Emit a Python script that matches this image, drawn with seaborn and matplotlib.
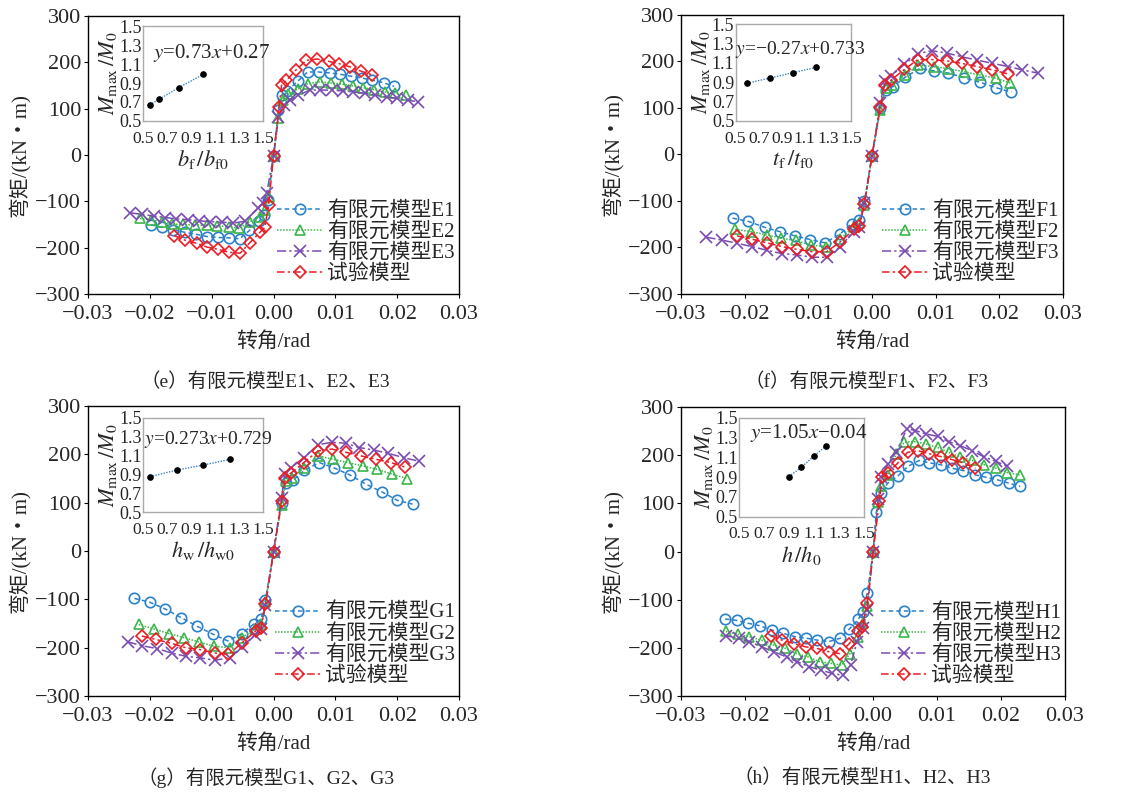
import numpy as np
import pandas as pd
import matplotlib
matplotlib.use("Agg")
import matplotlib.pyplot as plt
import seaborn as sns

# ---------------- data ----------------
# Panel (e)
E_test_x = [-0.0161,-0.0143,-0.0124,-0.0107,-0.0089,-0.0072,-0.0054,-0.0038,-0.0022,-0.0014,-0.0008,0.0,
            0.0009,0.0013,0.0021,0.0036,0.0053,0.0070,0.0089,0.0106,0.0124,0.0141,0.0159]
E_test_y = [-174,-184,-191,-199,-204,-210,-212,-189,-167,-156,-108,-3,
            104,150,161,183,204,207,202,197,190,181,173]
E1_x = [-0.0198,-0.0180,-0.0162,-0.0143,-0.0126,-0.0108,-0.0090,-0.0072,-0.0055,-0.0039,-0.0023,-0.0015,-0.0009,0.0,
        0.0008,0.0013,0.0022,0.0039,0.0055,0.0073,0.0091,0.0108,0.0125,0.0143,0.0160,0.0178,0.0195]
E1_y = [-151,-156,-162,-167,-171,-176,-178,-179,-181,-163,-143,-130,-97,-3,
        97,129,138,159,179,179,177,174,170,166,161,156,148]
E2_x = [-0.0216,-0.0198,-0.0181,-0.0164,-0.0146,-0.0127,-0.0108,-0.0092,-0.0072,-0.0056,-0.0038,-0.0022,-0.0014,-0.0008,0.0,
        0.0008,0.0015,0.0024,0.0040,0.0056,0.0075,0.0093,0.0111,0.0128,0.0145,0.0163,0.0180,0.0197,0.0214]
E2_y = [-137,-140,-144,-149,-150,-151,-152,-153,-155,-158,-144,-133,-119,-90,-3,
        79,118,131,143,154,158,155,153,149,145,141,136,134,129]
E3_x = [-0.0232,-0.0213,-0.0194,-0.0175,-0.0157,-0.0138,-0.0120,-0.0103,-0.0084,-0.0065,-0.0046,-0.0025,-0.0017,-0.0011,0.0,
        0.0008,0.0017,0.0027,0.0040,0.0059,0.0076,0.0094,0.0113,0.0129,0.0148,0.0164,0.0183,0.0199,0.0217,0.0233]
E3_y = [-125,-128,-132,-135,-138,-140,-142,-144,-145,-147,-143,-115,-104,-82,-3,
        82,107,118,129,140,140,140,138,136,133,129,125,122,118,115]

# Panel (f)
F_test_x = [-0.0212,-0.0189,-0.0165,-0.0142,-0.0118,-0.0095,-0.0071,-0.0050,-0.0028,-0.0020,-0.0012,0.0,
            0.0013,0.0020,0.0030,0.0051,0.0072,0.0095,0.0118,0.0141,0.0165,0.0189,0.0214]
F_test_y = [-175,-182,-190,-198,-204,-209,-209,-188,-161,-154,-106,-3,
            103,150,160,183,204,204,201,196,189,182,173]
F1_x = [-0.0219,-0.0194,-0.0168,-0.0145,-0.0121,-0.0097,-0.0074,-0.0051,-0.0032,-0.0020,-0.0012,0.0,
        0.0013,0.0022,0.0033,0.0052,0.0075,0.0097,0.0120,0.0145,0.0170,0.0194,0.0219]
F1_y = [-137,-144,-157,-166,-175,-183,-190,-172,-149,-141,-101,-3,
        99,139,146,166,185,180,175,165,155,144,134]
F2_x = [-0.0215,-0.0190,-0.0165,-0.0143,-0.0120,-0.0096,-0.0073,-0.0050,-0.0029,-0.0020,-0.0012,0.0,
        0.0013,0.0022,0.0032,0.0052,0.0073,0.0098,0.0120,0.0145,0.0169,0.0194,0.0217]
F2_y = [-161,-166,-173,-180,-185,-195,-198,-182,-155,-148,-109,-3,
        96,142,149,171,192,189,184,178,171,164,154]
F3_x = [-0.0260,-0.0236,-0.0212,-0.0189,-0.0165,-0.0142,-0.0118,-0.0095,-0.0071,-0.0050,-0.0029,-0.0020,-0.0012,0.0,
        0.0013,0.0020,0.0030,0.0051,0.0072,0.0094,0.0118,0.0141,0.0165,0.0189,0.0214,0.0236,0.0260]
F3_y = [-178,-184,-191,-198,-206,-213,-216,-221,-221,-198,-166,-157,-105,-3,
        110,157,169,194,217,223,218,210,203,196,189,182,175]

# Panel (g)
G_test_x = [-0.0213,-0.0190,-0.0165,-0.0142,-0.0119,-0.0095,-0.0073,-0.0051,-0.0029,-0.0020,-0.0013,0.0,
            0.0013,0.0019,0.0029,0.0049,0.0072,0.0094,0.0118,0.0141,0.0165,0.0190,0.0212]
G_test_y = [-176,-183,-191,-200,-204,-211,-214,-190,-166,-159,-110,-2,
            103,152,162,183,207,211,204,197,190,183,174]
G1_x = [-0.0225,-0.0200,-0.0175,-0.0149,-0.0123,-0.0098,-0.0074,-0.0051,-0.0031,-0.0020,-0.0013,0.0,
        0.0013,0.0020,0.0031,0.0050,0.0074,0.0098,0.0124,0.0150,0.0176,0.0200,0.0225]
G1_y = [-98,-106,-120,-138,-156,-172,-186,-171,-150,-141,-101,-2,
        99,141,146,167,183,172,157,138,122,105,97]
G2_x = [-0.0218,-0.0194,-0.0169,-0.0145,-0.0121,-0.0096,-0.0071,-0.0051,-0.0030,-0.0020,-0.0013,0.0,
        0.0013,0.0020,0.0030,0.0050,0.0072,0.0096,0.0120,0.0145,0.0168,0.0192,0.0216]
G2_y = [-152,-161,-171,-179,-188,-197,-200,-179,-161,-152,-106,-2,
        95,145,152,172,197,190,183,176,169,159,150]
G3_x = [-0.0236,-0.0212,-0.0188,-0.0165,-0.0141,-0.0119,-0.0095,-0.0071,-0.0051,-0.0030,-0.0021,-0.0013,0.0,
        0.0013,0.0018,0.0028,0.0049,0.0072,0.0094,0.0117,0.0139,0.0162,0.0186,0.0211,0.0235]
G3_y = [-188,-196,-202,-211,-218,-221,-226,-221,-198,-173,-161,-112,-2,
        110,159,172,193,220,225,223,214,209,202,193,186]

# Panel (h)
H_test_x = [-0.0160,-0.0142,-0.0124,-0.0105,-0.0088,-0.0069,-0.0052,-0.0037,-0.0023,-0.0017,-0.0009,0.0,
            0.0010,0.0014,0.0023,0.0039,0.0054,0.0071,0.0088,0.0106,0.0123,0.0141,0.0160]
H_test_y = [-175,-184,-191,-198,-201,-208,-212,-191,-166,-157,-107,-2,
            105,154,163,184,206,209,203,197,191,184,173]
H1_x = [-0.0231,-0.0213,-0.0195,-0.0177,-0.0158,-0.0140,-0.0122,-0.0104,-0.0087,-0.0069,-0.0051,-0.0037,-0.0023,-0.0016,-0.0009,0.0,
        0.0005,0.0013,0.0023,0.0039,0.0055,0.0072,0.0088,0.0106,0.0123,0.0141,0.0160,0.0177,0.0194,0.0212,0.0230]
H1_y = [-140,-143,-149,-154,-163,-170,-177,-180,-184,-187,-180,-161,-141,-125,-86,-2,
        81,122,142,157,177,189,184,180,173,168,159,154,149,142,135]
H2_x = [-0.0230,-0.0211,-0.0193,-0.0174,-0.0156,-0.0137,-0.0119,-0.0101,-0.0083,-0.0066,-0.0049,-0.0036,-0.0023,-0.0016,-0.0009,0.0,
        0.0008,0.0013,0.0023,0.0036,0.0049,0.0066,0.0083,0.0101,0.0118,0.0136,0.0155,0.0174,0.0192,0.0210,0.0229]
H2_y = [-166,-172,-177,-184,-194,-201,-212,-219,-229,-232,-236,-212,-177,-149,-114,-2,
        102,136,159,202,227,228,223,216,206,196,189,180,173,164,159]
H3_x = [-0.0229,-0.0210,-0.0193,-0.0174,-0.0155,-0.0135,-0.0118,-0.0100,-0.0082,-0.0064,-0.0047,-0.0035,-0.0025,-0.0016,-0.0009,0.0,
        0.0008,0.0013,0.0023,0.0036,0.0053,0.0066,0.0083,0.0101,0.0118,0.0136,0.0155,0.0174,0.0192,0.0210]
H3_y = [-175,-180,-187,-198,-208,-219,-229,-239,-246,-253,-257,-236,-187,-159,-121,-2,
        109,154,182,206,255,251,244,239,228,220,209,196,187,177]

# Insets: M_max/M_0 versus parameter ratio
E_ratio = [0.556, 0.636, 0.797, 1.0]
E_mratio = [0.67, 0.73, 0.85, 0.99]
F_ratio = [0.6, 0.8, 1.0, 1.2]
F_mratio = [0.89, 0.945, 1.0, 1.055]
G_ratio = [0.556, 0.78, 1.0, 1.222]
G_mratio = [0.877, 0.947, 1.0, 1.06]
H_ratio = [0.9, 1.0, 1.1, 1.2]
H_mratio = [0.904, 1.0, 1.113, 1.217]

x_ticks = [-0.03, -0.02, -0.01, 0.0, 0.01, 0.02, 0.03]
x_ticklabels = ["\u22120.03", "\u22120.02", "\u22120.01", "0.00", "0.01", "0.02", "0.03"]
y_ticks = [-300, -200, -100, 0, 100, 200, 300]
inset_ticks = [0.5, 0.7, 0.9, 1.1, 1.3, 1.5]

# ---------------- style ----------------
sns.set_theme(style="white")
plt.rcParams["font.family"] = ["Liberation Serif", "Noto Sans CJK SC"]
plt.rcParams["mathtext.fontset"] = "stix"
plt.rcParams["axes.unicode_minus"] = True

fig = plt.figure(figsize=(11.23, 7.96), dpi=100)

C_BLUE = "#2a82cc"
C_GREEN = "#3cb54a"
C_PURPLE = "#7a4cb2"
C_RED = "#ec1c24"

series_style = [
    dict(color=C_BLUE, marker="o", linestyle=(0, (3, 2))),
    dict(color=C_GREEN, marker="^", linestyle=(0, (1, 1))),
    dict(color=C_PURPLE, marker="x", linestyle=(0, (6, 2, 1.5, 2))),
    dict(color=C_RED, marker="D", linestyle=(0, (5, 2, 1.5, 2))),
]

panels = [
    dict(rect=[0.0784, 0.6307, 0.3303, 0.3493],
         inset=[0.1273, 0.848, 0.1069, 0.1193],
         series=[(E1_x, E1_y, "有限元模型E1"), (E2_x, E2_y, "有限元模型E2"),
                 (E3_x, E3_y, "有限元模型E3"), (E_test_x, E_test_y, "试验模型")],
         ins=(E_ratio, E_mratio), eq=r"$y$=0.73$x$+0.27", eqpos=(0.57, 0.72), eqsize=15,
         ixl=r"$b_{\rm f}\,/b_{\rm f0}$",
         cap="（e）有限元模型E1、E2、E3", cappos=(0.236, 0.521)),
    dict(rect=[0.6064, 0.6307, 0.3402, 0.3505],
         inset=[0.655, 0.848, 0.1027, 0.1215],
         series=[(F1_x, F1_y, "有限元模型F1"), (F2_x, F2_y, "有限元模型F2"),
                 (F3_x, F3_y, "有限元模型F3"), (F_test_x, F_test_y, "试验模型")],
         ins=(F_ratio, F_mratio), eq="$y$=\u22120.27$x$+0.733", eqpos=(0.56, 0.74), eqsize=14,
         ixl=r"$t_{\rm f}\,/t_{\rm f0}$",
         cap="（f）有限元模型F1、F2、F3", cappos=(0.772, 0.521)),
    dict(rect=[0.0784, 0.1256, 0.3303, 0.3643],
         inset=[0.1276, 0.3564, 0.1069, 0.1188],
         series=[(G1_x, G1_y, "有限元模型G1"), (G2_x, G2_y, "有限元模型G2"),
                 (G3_x, G3_y, "有限元模型G3"), (G_test_x, G_test_y, "试验模型")],
         ins=(G_ratio, G_mratio), eq=r"$y$=0.273$x$+0.729", eqpos=(0.54, 0.77), eqsize=14,
         ixl=r"$h_{\rm w}\,/h_{\rm w0}$",
         cap="（g）有限元模型G1、G2、G3", cappos=(0.237, 0.0226)),
    dict(rect=[0.6064, 0.1256, 0.3420, 0.3631],
         inset=[0.658, 0.3509, 0.1113, 0.1244],
         series=[(H1_x, H1_y, "有限元模型H1"), (H2_x, H2_y, "有限元模型H2"),
                 (H3_x, H3_y, "有限元模型H3"), (H_test_x, H_test_y, "试验模型")],
         ins=(H_ratio, H_mratio), eq="$y$=1.05$x$\u22120.04", eqpos=(0.56, 0.85), eqsize=15,
         ixl=r"$h\,/h_0$",
         cap="（h）有限元模型H1、H2、H3", cappos=(0.768, 0.0226)),
]

for p in panels:
    ax = fig.add_axes(p["rect"])
    for (xs, ys, lab), st in zip(p["series"], series_style):
        df = pd.DataFrame({"x": xs, "y": ys})
        kw = dict(markerfacecolor="none", markeredgecolor=st["color"], markersize=7.5,
                  markeredgewidth=1.2)
        if st["marker"] == "D":
            kw["markersize"] = 6
        if st["marker"] == "x":
            kw["markersize"] = 8
        sns.lineplot(data=df, x="x", y="y", ax=ax, color=st["color"], marker=st["marker"],
                     linestyle=st["linestyle"], linewidth=1.1, estimator=None, sort=False,
                     label=lab, **kw)
    ax.set_xlim(-0.03, 0.03)
    ax.set_ylim(-300, 300)
    ax.set_xticks(x_ticks)
    ax.set_xticklabels(x_ticklabels)
    ax.set_yticks(y_ticks)
    ax.tick_params(axis="y", labelsize=16, length=3, width=0.8, direction="out",
                   color="black", pad=2, left=True)
    ax.tick_params(axis="x", labelsize=16, length=3, width=0.8, direction="out",
                   color="black", pad=5, bottom=True)
    for s in ax.spines.values():
        s.set_color("black")
        s.set_linewidth(1.0)
    ax.set_xlabel("转角/rad", fontsize=15, labelpad=6)
    ax.set_ylabel("弯矩/(kN・m)", fontsize=15, labelpad=4)
    ax.legend(loc="lower right", bbox_to_anchor=(1.0, 0.02), frameon=False, fontsize=15,
              handlelength=2.2, handletextpad=0.2, labelspacing=0.05, borderaxespad=0.1,
              borderpad=0.1)

    ia = fig.add_axes(p["inset"])
    rx, ry = p["ins"]
    idf = pd.DataFrame({"r": rx, "m": ry})
    sns.lineplot(data=idf, x="r", y="m", ax=ia, color="#3b86c8", linestyle=(0, (1, 1)),
                 linewidth=1.0, marker="o", markersize=4, markerfacecolor="black",
                 markeredgecolor="black", estimator=None, sort=False)
    ia.set_xlim(0.5, 1.5)
    ia.set_ylim(0.5, 1.5)
    ia.set_xticks(inset_ticks)
    ia.set_yticks(inset_ticks)
    ia.set_xticklabels([f"{t:.1f}" for t in inset_ticks])
    ia.set_yticklabels([f"{t:.1f}" for t in inset_ticks])
    ia.tick_params(axis="y", labelsize=13, length=0, pad=1)
    ia.tick_params(axis="x", labelsize=12.5, length=0, pad=7)
    for s in ia.spines.values():
        s.set_color("#aaaaaa")
        s.set_linewidth(1.0)
    ia.set_xlabel(p["ixl"], fontsize=16, labelpad=1)
    ia.set_ylabel(r"$M_{\rm max}\,/M_0$", fontsize=16, labelpad=0)
    ia.text(p["eqpos"][0], p["eqpos"][1], p["eq"], transform=ia.transAxes,
            fontsize=p["eqsize"], ha="center", va="center")

    fig.text(p["cappos"][0], p["cappos"][1], p["cap"], fontsize=14, ha="center", va="center")

fig.savefig("out.png", dpi=100)
